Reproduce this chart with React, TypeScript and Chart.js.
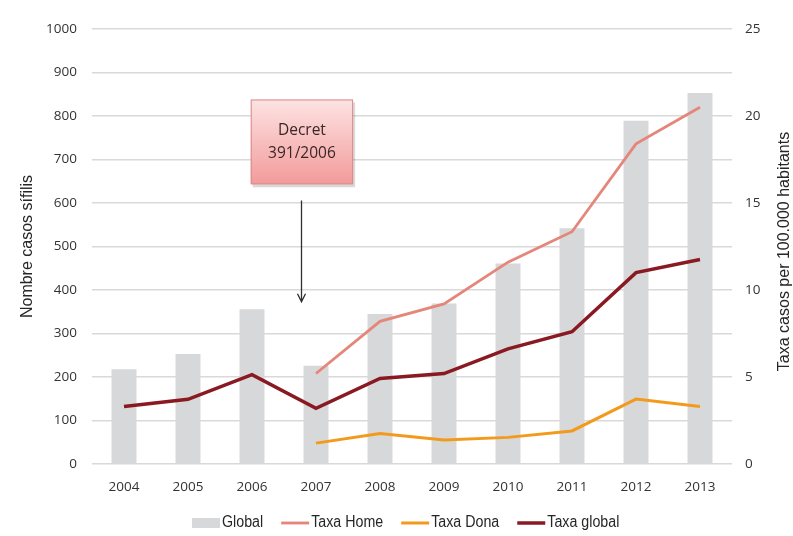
import React, { useEffect, useRef } from "react";
import { Chart, registerables } from "chart.js";

Chart.register(...registerables);

const years = ["2004", "2005", "2006", "2007", "2008", "2009", "2010", "2011", "2012", "2013"];
const globalCases = [218, 253, 356, 226, 345, 369, 461, 542, 789, 853];
const taxaHome = [null, null, null, 5.2, 8.2, 9.2, 11.6, 13.35, 18.4, 20.5];
const taxaDona = [null, null, null, 1.2, 1.75, 1.38, 1.53, 1.9, 3.73, 3.3];
const taxaGlobal = [3.3, 3.72, 5.13, 3.2, 4.92, 5.2, 6.62, 7.6, 11.0, 11.75];

const leftMax = 1000;
const leftStep = 100;
const rightMax = 25;
const rightStep = 5;

const leftTitle = "Nombre casos sífilis";
const rightTitle = "Taxa casos per 100.000 habitants";
const annotationLines = ["Decret", "391/2006"];

const TICK_FONT = "'Open Sans', 'DejaVu Sans', sans-serif";
const TITLE_FONT = "'Liberation Sans', Arial, sans-serif";
const LEGEND_FONT = "'Liberation Sans', Arial, sans-serif";

// annotation placement in scale values (x = category index, y = left axis value)
const annot = {
  boxX0: 1.98,
  boxX1: 3.58,
  boxYTop: 838,
  boxYBottom: 643,
  arrowX: 2.77,
  arrowFrom: 606,
  arrowTo: 373,
};

const decorPlugin = {
  id: "decor",
  afterDraw(chart: any) {
    const ctx = chart.ctx as CanvasRenderingContext2D;
    const xs = chart.scales.x;
    const ys = chart.scales.y;
    const y1 = chart.scales.y1;
    const catW = xs.getPixelForValue(1) - xs.getPixelForValue(0);
    const px = (v: number) => xs.getPixelForValue(0) + v * catW;

    // arrow
    const ax = Math.round(px(annot.arrowX)) + 0.5;
    const ay0 = ys.getPixelForValue(annot.arrowFrom);
    const ay1 = ys.getPixelForValue(annot.arrowTo);
    ctx.save();
    ctx.strokeStyle = "#2f2f2f";
    ctx.lineWidth = 1.3;
    ctx.beginPath();
    ctx.moveTo(ax, ay0);
    ctx.lineTo(ax, ay1);
    ctx.moveTo(ax - 4, ay1 - 8);
    ctx.lineTo(ax, ay1);
    ctx.lineTo(ax + 4, ay1 - 8);
    ctx.stroke();
    ctx.restore();

    // box
    const bx0 = px(annot.boxX0);
    const bx1 = px(annot.boxX1);
    const by0 = ys.getPixelForValue(annot.boxYTop);
    const by1 = ys.getPixelForValue(annot.boxYBottom);
    ctx.save();
    ctx.fillStyle = "rgba(0,0,0,0.15)";
    ctx.fillRect(bx0 + 2, by0 + 3, bx1 - bx0, by1 - by0);
    const g = ctx.createLinearGradient(0, by0, 0, by1);
    g.addColorStop(0, "#fde3e3");
    g.addColorStop(1, "#f39a9a");
    ctx.fillStyle = g;
    ctx.fillRect(bx0, by0, bx1 - bx0, by1 - by0);
    ctx.strokeStyle = "#d98a8a";
    ctx.lineWidth = 1;
    ctx.strokeRect(bx0 + 0.5, by0 + 0.5, bx1 - bx0 - 1, by1 - by0 - 1);
    ctx.fillStyle = "#3b2626";
    ctx.font = "15.5px " + TICK_FONT;
    ctx.textAlign = "center";
    ctx.textBaseline = "middle";
    const cx = (bx0 + bx1) / 2;
    const cy = (by0 + by1) / 2;
    ctx.fillText(annotationLines[0], cx, cy - 11);
    ctx.fillText(annotationLines[1], cx, cy + 12);
    ctx.restore();

    // right axis title (reads bottom to top)
    ctx.save();
    ctx.translate(y1.right - 8, (chart.chartArea.top + chart.chartArea.bottom) / 2 + 5);
    ctx.rotate(-Math.PI / 2);
    ctx.fillStyle = "#262626";
    ctx.font = "16px " + TITLE_FONT;
    ctx.textAlign = "center";
    ctx.textBaseline = "middle";
    ctx.fillText(rightTitle, 0, 0);
    ctx.restore();

    // legend
    ctx.save();
    ctx.font = "16px " + LEGEND_FONT;
    ctx.textBaseline = "middle";
    ctx.textAlign = "left";
    let x = 192;
    const y = 523;
    const squeeze = 0.89;
    chart.data.datasets.forEach((ds: any) => {
      const mw = 28;
      if (ds.type === "bar") {
        ctx.fillStyle = ds.backgroundColor;
        ctx.fillRect(x, y - 5, mw, 10);
      } else {
        ctx.strokeStyle = ds.borderColor;
        ctx.lineWidth = ds.borderWidth;
        ctx.beginPath();
        ctx.moveTo(x, y);
        ctx.lineTo(x + mw, y);
        ctx.stroke();
      }
      x += mw + 2;
      ctx.fillStyle = "#262626";
      const w = ctx.measureText(ds.label).width * squeeze;
      ctx.fillText(ds.label, x, y, w);
      x += w + 18;
    });
    ctx.restore();
  },
};

export default function App() {
  const ref = useRef<HTMLCanvasElement | null>(null);

  useEffect(() => {
    if (!ref.current) return;
    const chart = new Chart(ref.current, {
      data: {
        labels: years,
        datasets: [
          {
            type: "bar",
            label: "Global",
            data: globalCases,
            backgroundColor: "#d7d8da",
            yAxisID: "y",
            barPercentage: 0.39,
            categoryPercentage: 1,
            order: 2,
          },
          {
            type: "line",
            label: "Taxa Home",
            data: taxaHome,
            borderColor: "#e5867a",
            backgroundColor: "#e5867a",
            borderWidth: 2.8,
            pointRadius: 0,
            yAxisID: "y1",
            order: 1,
          },
          {
            type: "line",
            label: "Taxa Dona",
            data: taxaDona,
            borderColor: "#f39a1c",
            backgroundColor: "#f39a1c",
            borderWidth: 3,
            pointRadius: 0,
            yAxisID: "y1",
            order: 1,
          },
          {
            type: "line",
            label: "Taxa global",
            data: taxaGlobal,
            borderColor: "#8a1a22",
            backgroundColor: "#8a1a22",
            borderWidth: 3.5,
            pointRadius: 0,
            yAxisID: "y1",
            order: 1,
          },
        ] as any,
      },
      options: {
        animation: false,
        responsive: false,
        layout: { padding: { top: 29, bottom: 40, left: 0, right: 0 } },
        plugins: {
          legend: { display: false },
          tooltip: { enabled: false },
        },
        scales: {
          x: {
            grid: { display: false, drawTicks: false },
            border: { display: false },
            ticks: {
              color: "#333333",
              font: { family: TICK_FONT, size: 13.5 },
              padding: 15,
              maxRotation: 0,
            },
            afterFit: (s: any) => {
              s.height = 32;
            },
          },
          y: {
            position: "left",
            min: 0,
            max: leftMax,
            grid: { color: "#d9d9d9", lineWidth: 1.6, drawTicks: false },
            border: { display: false },
            ticks: {
              stepSize: leftStep,
              color: "#333333",
              font: { family: TICK_FONT, size: 13.5 },
              padding: 15,
              callback: (v: any) => String(v),
            },
            title: {
              display: true,
              text: leftTitle,
              color: "#262626",
              font: { family: TITLE_FONT, size: 16, lineHeight: 1 },
              padding: { top: 20, bottom: 0 },
            },
            afterFit: (s: any) => {
              s.width = 92;
            },
          },
          y1: {
            position: "right",
            min: 0,
            max: rightMax,
            grid: { display: false, drawTicks: false },
            border: { display: false },
            ticks: {
              stepSize: rightStep,
              color: "#333333",
              font: { family: TICK_FONT, size: 13.5 },
              padding: 13,
              callback: (v: any) => String(v),
            },
            afterFit: (s: any) => {
              s.width = 61;
            },
          },
        },
      } as any,
      plugins: [decorPlugin],
    });
    return () => chart.destroy();
  }, []);

  return (
    <div style={{ position: "absolute", left: 0, top: 0, width: 793, height: 536, background: "#fff" }}>
      <canvas ref={ref} width={793} height={536} style={{ display: "block" }} />
    </div>
  );
}
